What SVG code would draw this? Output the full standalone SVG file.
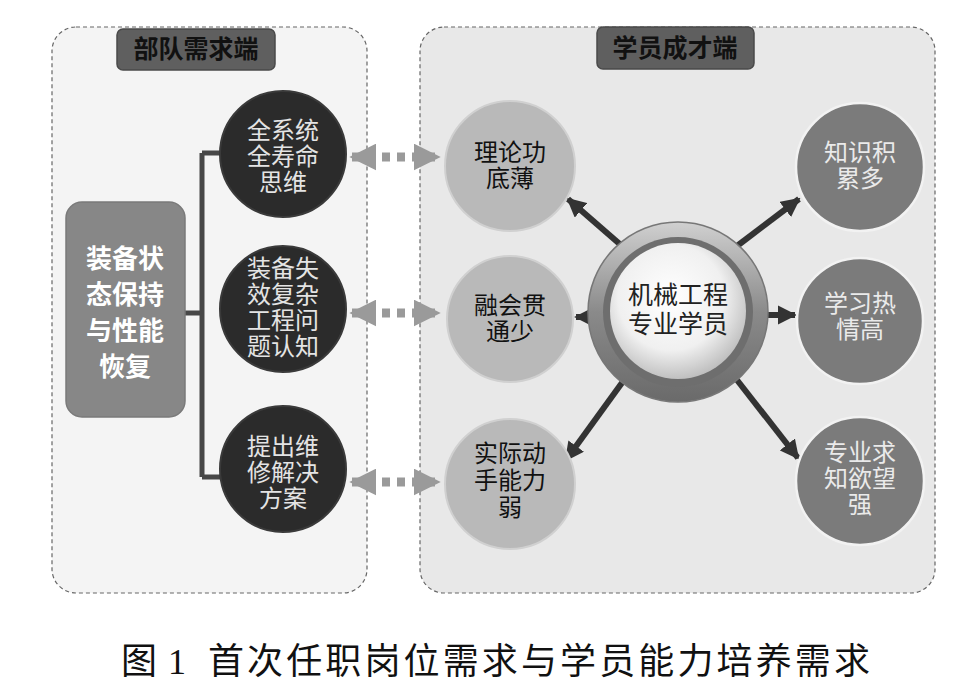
<svg xmlns="http://www.w3.org/2000/svg" width="975" height="689" viewBox="0 0 975 689">
<defs>
<style>
.cjk{font-family:"Noto Sans CJK SC","Noto Sans",sans-serif;}
.panel{stroke:#666;stroke-width:1.2;stroke-dasharray:4 3;}
.title{fill:#5f5f5f;stroke:#4a4a4a;stroke-width:1.5;}
.ttl{font-size:25px;font-weight:bold;fill:#111;text-anchor:middle;}
.dark{fill:#2b2b2b;stroke:#3a3a3a;stroke-width:2;}
.dtx{font-size:24px;fill:#e4e4e4;text-anchor:middle;}
.light{fill:#b9b9b9;stroke:#d0d0d0;stroke-width:2;}
.ltx{font-size:24px;fill:#111;text-anchor:middle;}
.mid{fill:#7b7b7b;stroke:#f2f2f2;stroke-width:2.5;}
.mtx{font-size:24px;fill:#eaeaea;text-anchor:middle;}
.dash{stroke:#9a9a9a;stroke-width:9;stroke-dasharray:8 7;fill:none;}
.ray{stroke:#333;stroke-width:6;fill:none;}
</style>
<marker id="gh" viewBox="0 0 10 10" refX="9" refY="5" markerWidth="3" markerHeight="3" orient="auto-start-reverse" markerUnits="strokeWidth">
<path d="M0,0 L10,5 L0,10 Z" fill="#9a9a9a"/>
</marker>
<marker id="dh" viewBox="0 0 10 10" refX="9" refY="5" markerWidth="3.2" markerHeight="3.2" orient="auto" markerUnits="strokeWidth">
<path d="M0,0 L10,5 L0,10 Z" fill="#333"/>
</marker>
<radialGradient id="sphere" cx="45%" cy="40%" r="65%">
<stop offset="0" stop-color="#ffffff"/>
<stop offset="0.6" stop-color="#f0f0f0"/>
<stop offset="1" stop-color="#b5b5b5"/>
</radialGradient>
<linearGradient id="ring" x1="0" y1="0" x2="0" y2="1">
<stop offset="0" stop-color="#d0d0d0"/>
<stop offset="0.5" stop-color="#8a8a8a"/>
<stop offset="1" stop-color="#6a6a6a"/>
</linearGradient>
</defs>
<rect width="975" height="689" fill="#ffffff"/>

<g id="panel-left">
<rect class="panel" x="52" y="27" width="315" height="566" rx="24" fill="#f4f4f4"/>
<rect class="title" x="117" y="29" width="158" height="41" rx="6"/>
<text class="cjk ttl" x="196" y="58">部队需求端</text>
</g>
<g id="panel-right">
<rect class="panel" x="420" y="27" width="515" height="566" rx="24" fill="#e8e8e8"/>
<rect class="title" x="597" y="27" width="157" height="42" rx="6"/>
<text class="cjk ttl" x="675" y="57">学员成才端</text>
</g>

<g id="connectors">
<path d="M163,313 H202 M202,153 V477 M202,153 H224 M202,477 H224" stroke="#474747" stroke-width="5" fill="none"/>
<line class="dash" x1="352" y1="157" x2="438" y2="157" marker-start="url(#gh)" marker-end="url(#gh)"/>
<line class="dash" x1="352" y1="313" x2="438" y2="313" marker-start="url(#gh)" marker-end="url(#gh)"/>
<line class="dash" x1="352" y1="482" x2="438" y2="482" marker-start="url(#gh)" marker-end="url(#gh)"/>
<line class="ray" x1="622" y1="246" x2="568" y2="199" marker-end="url(#dh)"/>
<line class="ray" x1="737" y1="246" x2="799" y2="199" marker-end="url(#dh)"/>
<line class="ray" x1="592" y1="317" x2="576" y2="317" marker-end="url(#dh)"/>
<line class="ray" x1="765" y1="315" x2="795" y2="315" marker-end="url(#dh)"/>
<line class="ray" x1="624" y1="380" x2="566" y2="460" marker-end="url(#dh)"/>
<line class="ray" x1="737" y1="380" x2="798" y2="458" marker-end="url(#dh)"/>
</g>

<g id="box-main">
<rect x="66" y="202" width="119" height="215" rx="16" fill="#878787" stroke="#7a7a7a" stroke-width="1.5"/>
<text class="cjk" font-size="26" font-weight="bold" fill="#ffffff" text-anchor="middle" x="125" y="268">装备状<tspan x="125" dy="36">态保持</tspan><tspan x="125" dy="36">与性能</tspan><tspan x="125" dy="36">恢复</tspan></text>
</g>

<g id="d1"><circle class="dark" cx="283" cy="154" r="63"/>
<text class="cjk dtx" x="283" y="139">全系统<tspan x="283" dy="26">全寿命</tspan><tspan x="283" dy="26">思维</tspan></text></g>
<g id="d2"><circle class="dark" cx="283" cy="309" r="63"/>
<text class="cjk dtx" x="283" y="277">装备失<tspan x="283" dy="26">效复杂</tspan><tspan x="283" dy="26">工程问</tspan><tspan x="283" dy="26">题认知</tspan></text></g>
<g id="d3"><circle class="dark" cx="283" cy="469" r="63"/>
<text class="cjk dtx" x="283" y="455">提出维<tspan x="283" dy="26">修解决</tspan><tspan x="283" dy="26">方案</tspan></text></g>

<g id="l1"><circle class="light" cx="510" cy="166" r="65"/>
<text class="cjk ltx" x="510" y="161">理论功<tspan x="510" dy="26">底薄</tspan></text></g>
<g id="l2"><circle class="light" cx="510" cy="319" r="63"/>
<text class="cjk ltx" x="510" y="314">融会贯<tspan x="510" dy="26">通少</tspan></text></g>
<g id="l3"><circle class="light" cx="510" cy="484" r="65"/>
<text class="cjk ltx" x="510" y="462">实际动<tspan x="510" dy="27">手能力</tspan><tspan x="510" dy="27">弱</tspan></text></g>

<g id="r1"><circle class="mid" cx="860" cy="167" r="64"/>
<text class="cjk mtx" x="860" y="161">知识积<tspan x="860" dy="26">累多</tspan></text></g>
<g id="r2"><circle class="mid" cx="860" cy="321" r="63"/>
<text class="cjk mtx" x="860" y="312">学习热<tspan x="860" dy="26">情高</tspan></text></g>
<g id="r3"><circle class="mid" cx="860" cy="481" r="64"/>
<text class="cjk mtx" x="860" y="461">专业求<tspan x="860" dy="26">知欲望</tspan><tspan x="860" dy="26">强</tspan></text></g>

<g id="center">
<circle cx="678" cy="312" r="90" fill="url(#ring)" stroke="#777" stroke-width="1.5"/>
<circle cx="678" cy="312" r="75" fill="#6e6e6e"/>
<circle cx="678" cy="311" r="68" fill="url(#sphere)"/>
<text class="cjk" font-size="25" fill="#222" text-anchor="middle" x="678" y="304">机械工程<tspan x="678" dy="29">专业学员</tspan></text>
</g>

<g id="caption">
<text font-family="'Liberation Serif','Noto Sans CJK SC',serif" font-size="36" fill="#111" x="121" y="674">图</text>
<text font-family="'Liberation Serif',serif" font-size="36" fill="#111" x="168" y="674">1</text>
<text class="cjk" font-size="36" fill="#111" x="208" y="674" textLength="662">首次任职岗位需求与学员能力培养需求</text>
</g>
</svg>
